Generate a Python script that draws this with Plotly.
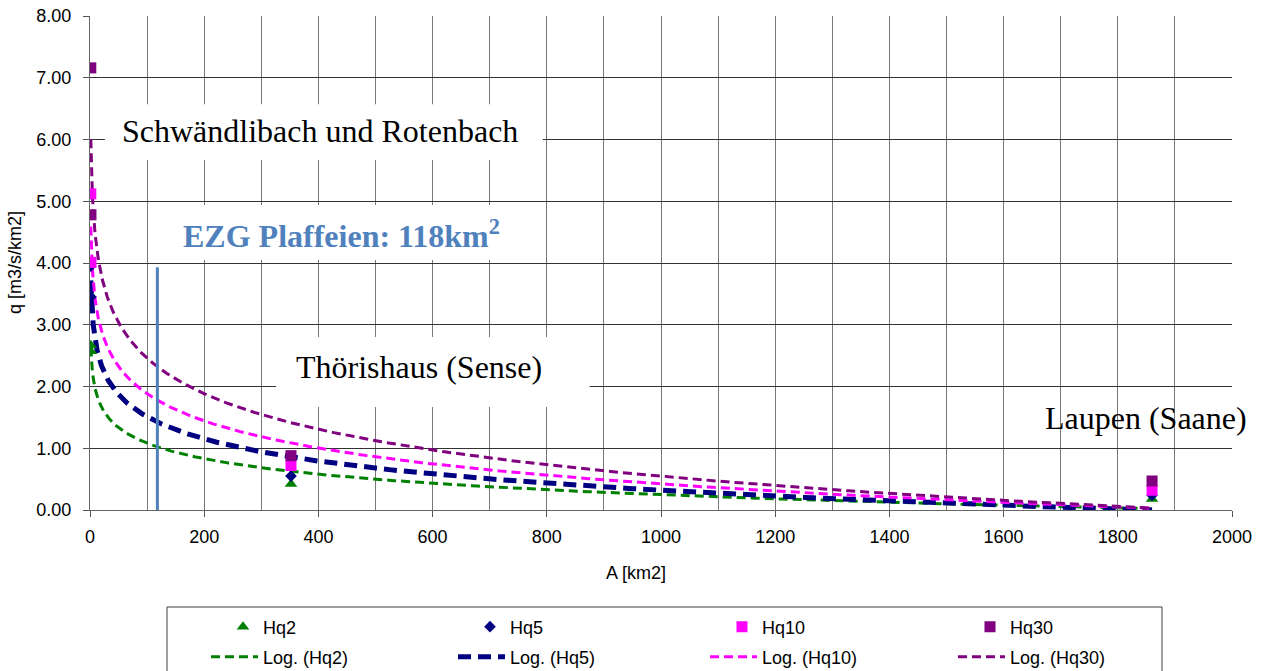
import numpy as np
import plotly.graph_objects as go

# Catchment area [km2] of the gauging stations (two small research catchments,
# Thörishaus on the Sense, Laupen on the Saane)
AREA_KM2 = [1.4, 1.7, 352, 1860]

# Specific flood discharge q [m3/s/km2] per return period
HQ2 = [2.67, 2.57, 0.42, 0.18]
HQ5 = [3.95, 3.45, 0.55, 0.24]
HQ10 = [5.12, 4.01, 0.72, 0.32]
HQ30 = [7.16, 4.78, 0.88, 0.47]

SERIES_NAMES = ["Hq2", "Hq5", "Hq10", "Hq30"]
SERIES_VALUES = [HQ2, HQ5, HQ10, HQ30]

# Catchment of Plaffeien
EZG_PLAFFEIEN_KM2 = 118
EZG_MARKER_TOP = 3.93

X_TICKS = list(range(0, 2001, 200))
Y_TICKS = list(range(0, 9))

COLORS = {"Hq2": "#008000", "Hq5": "#000080", "Hq10": "#FF00FF", "Hq30": "#800080"}
SYMBOLS = {"Hq2": "triangle-up", "Hq5": "diamond", "Hq10": "square", "Hq30": "square"}
SIZES = {"Hq2": 11, "Hq5": 9, "Hq10": 11, "Hq30": 11}
TREND_WIDTH = {"Hq2": 3, "Hq5": 5, "Hq10": 3, "Hq30": 3}
TREND_DASH = {"Hq2": "9px,5px", "Hq5": "13px,7px", "Hq10": "9px,5px", "Hq30": "9px,5px"}

# plot area in pixels (left, right, top, bottom)
PL, PR, PT, PB = 90, 1232, 16, 510
PW, PH = PR - PL, PB - PT


def px_x(px):
    return (px - PL) / PW


def px_y(py):
    return (PB - py) / PH


fig = go.Figure()

# legend layout: one legend per entry, 4 columns x 2 rows
LEGEND_TEXT_X = [263, 510, 762, 1010]
LEGEND_ROW_Y = [627, 657]
legend_layout = {}

# logarithmic trend lines  q = a*ln(A) + b  (least squares, over the data range)
log_a = np.log(np.array(AREA_KM2, dtype=float))
a_grid = np.geomspace(min(AREA_KM2), max(AREA_KM2), 600)
for i, (name, vals) in enumerate(zip(SERIES_NAMES, SERIES_VALUES)):
    slope, icpt = np.polyfit(log_a, np.array(vals, dtype=float), 1)
    key = f"legend{5 + i}"
    legend_layout[key] = dict(x=px_x(LEGEND_TEXT_X[i] - 57), y=px_y(LEGEND_ROW_Y[1]),
                              itemwidth=47)
    fig.add_trace(go.Scatter(
        x=a_grid, y=slope * np.log(a_grid) + icpt, mode="lines",
        name=f"Log. ({name})", legend=key,
        line=dict(color=COLORS[name], width=TREND_WIDTH[name], dash=TREND_DASH[name]),
        hoverinfo="skip",
    ))

# measured values
for i, (name, vals) in enumerate(zip(SERIES_NAMES, SERIES_VALUES)):
    key = "legend" if i == 0 else f"legend{1 + i}"
    legend_layout[key] = dict(x=px_x(LEGEND_TEXT_X[i] - 40), y=px_y(LEGEND_ROW_Y[0]),
                              itemwidth=30)
    fig.add_trace(go.Scatter(
        x=AREA_KM2, y=vals, mode="markers", name=name, legend=key,
        marker=dict(color=COLORS[name], symbol=SYMBOLS[name], size=SIZES[name],
                    line=dict(width=0)),
    ))

# Plaffeien catchment marker
fig.add_trace(go.Scatter(
    x=[EZG_PLAFFEIEN_KM2, EZG_PLAFFEIEN_KM2], y=[0, EZG_MARKER_TOP], mode="lines",
    line=dict(color="#4F81BD", width=3), showlegend=False, hoverinfo="skip",
))

# white label boxes (above the grid, below the data)
boxes = [
    dict(xref="x", yref="y", x0=26, x1=793, y0=5.67, y1=6.57),
    dict(xref="x", yref="y", x0=140, x1=762, y0=4.05, y1=4.94),
    dict(xref="x", yref="y", x0=326, x1=875, y0=1.67, y1=2.80),
    dict(xref="paper", yref="y", x0=px_x(1025), x1=px_x(1280), y0=0.97, y1=2.02),
]
for b in boxes:
    fig.add_shape(type="rect", layer="between", fillcolor="white",
                  line=dict(width=0), **b)

serif = "Liberation Serif, Times New Roman, serif"
labels = [
    dict(x=403, y=6.13, text="Schwändlibach und Rotenbach", font=dict(family=serif, size=32, color="black")),
    dict(x=440, y=4.47, text="<b>EZG Plaffeien: 118km<sup>2</sup></b>", font=dict(family=serif, size=32, color="#4F81BD")),
    dict(x=576, y=2.31, text="Thörishaus (Sense)", font=dict(family=serif, size=32, color="black")),
    dict(x=1849, y=1.49, text="Laupen (Saane)", font=dict(family=serif, size=32, color="black")),
]
for lab in labels:
    fig.add_annotation(xref="x", yref="y", showarrow=False, xanchor="center",
                       yanchor="middle", **lab)

# axis titles
fig.add_annotation(xref="paper", yref="paper", x=px_x(636), y=px_y(573),
                   text="A [km2]", showarrow=False, xanchor="center", yanchor="middle",
                   font=dict(size=18, color="black"))
fig.add_annotation(xref="paper", yref="paper", x=px_x(15), y=0.5,
                   text="q [m3/s/km2]", textangle=-90, showarrow=False,
                   xanchor="center", yanchor="middle", font=dict(size=18, color="black"))

# legend frame
fig.add_shape(type="rect", xref="paper", yref="paper",
              x0=px_x(167), x1=px_x(1162), y0=px_y(607), y1=px_y(690),
              line=dict(color="#404040", width=1), fillcolor="white", layer="below")

legend_common = dict(orientation="h", xanchor="left", yanchor="middle",
                     bgcolor="rgba(0,0,0,0)", borderwidth=0,
                     font=dict(size=18, color="black"), itemclick=False,
                     itemdoubleclick=False)
for key, pos in legend_layout.items():
    legend_layout[key] = {**legend_common, **pos}

fig.update_layout(
    width=1266, height=671,
    margin=dict(l=PL, r=1266 - PR, t=PT, b=671 - PB, autoexpand=False),
    paper_bgcolor="white", plot_bgcolor="white",
    font=dict(family="Liberation Sans, Arial, sans-serif", size=18, color="black"),
    xaxis=dict(
        range=[0, 2000], tickvals=X_TICKS, ticks="outside", ticklen=6,
        tickcolor="#555", showline=True, linecolor="#666", linewidth=1,
        showgrid=True, gridcolor="#777", gridwidth=1, zeroline=False,
        minor=dict(dtick=100, showgrid=True, gridcolor="#777", gridwidth=1),
        tickfont=dict(size=18), ticklabelstandoff=4,
    ),
    yaxis=dict(
        range=[0, 8], tickvals=Y_TICKS, tickformat=".2f", ticks="outside",
        ticklen=6, tickcolor="#555", showline=True, linecolor="#666",
        linewidth=1, showgrid=True, gridcolor="#333", gridwidth=1,
        zeroline=False, tickfont=dict(size=18), ticklabelstandoff=8,
    ),
    **legend_layout,
)

fig.write_html("out.html")
